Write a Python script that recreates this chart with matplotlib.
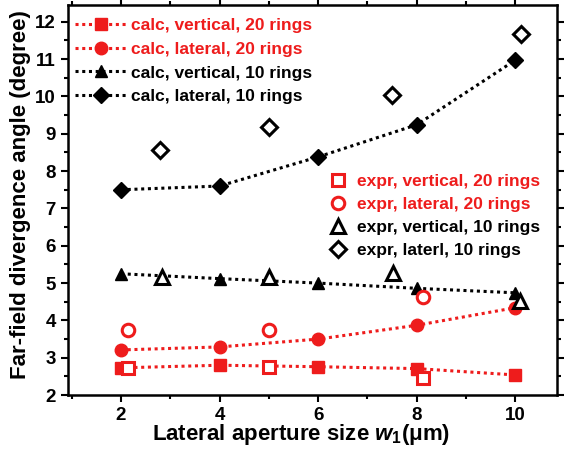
import numpy as np
import matplotlib
matplotlib.use('Agg')
import matplotlib.pyplot as plt
from matplotlib.ticker import MultipleLocator

plt.rcParams['font.family'] = ['Liberation Sans', 'DejaVu Sans']
plt.rcParams['font.weight'] = 'bold'
plt.rcParams['mathtext.fontset'] = 'custom'
plt.rcParams['mathtext.rm'] = 'Liberation Sans:bold'
plt.rcParams['mathtext.it'] = 'Liberation Sans:bold:italic'
plt.rcParams['mathtext.bf'] = 'Liberation Sans:bold'

# calculated curves (w1 = 2..10 um)
w_calc = [2, 4, 6, 8, 10]
calc_vert_20 = [2.73, 2.80, 2.76, 2.71, 2.54]
calc_lat_20 = [3.21, 3.29, 3.50, 3.87, 4.34]
calc_vert_10 = [5.25, 5.12, 5.00, 4.86, 4.74]
calc_lat_10 = [7.50, 7.60, 8.38, 9.24, 10.97]

# measured points
w_ev20 = [2.14, 5.0, 8.13]
expr_vert_20 = [2.72, 2.75, 2.45]
w_el20 = [2.14, 5.0, 8.13]
expr_lat_20 = [3.74, 3.74, 4.62]
w_ev10 = [2.83, 5.0, 7.52, 10.1]
expr_vert_10 = [5.15, 5.17, 5.26, 4.53]
w_el10 = [2.8, 5.0, 7.5, 10.11]
expr_lat_10 = [8.57, 9.18, 10.05, 11.68]

RED = '#ee1c1c'

fig = plt.figure(figsize=(5.65, 4.5), dpi=100)
ax = fig.add_axes([0.12, 0.122, 0.866, 0.867])

ls = dict(linestyle=(0, (1, 1.2)), linewidth=2.2)
h1, = ax.plot(w_calc, calc_vert_20, color=RED, marker='s', ms=8, **ls, label='calc, vertical, 20 rings')
h2, = ax.plot(w_calc, calc_lat_20, color=RED, marker='o', ms=9, **ls, label='calc, lateral, 20 rings')
h3, = ax.plot(w_calc, calc_vert_10, color='black', marker='^', ms=9, **ls, label='calc, vertical, 10 rings')
h4, = ax.plot(w_calc, calc_lat_10, color='black', marker='D', ms=8, **ls, label='calc, lateral, 10 rings')

ms = dict(linestyle='none', markerfacecolor='white', markeredgewidth=2.2)
e1, = ax.plot(w_ev20, expr_vert_20, marker='s', ms=8, color=RED, **ms, label='expr, vertical, 20 rings')
e2, = ax.plot(w_el20, expr_lat_20, marker='o', ms=9, color=RED, **ms, label='expr, lateral, 20 rings')
e3, = ax.plot(w_ev10, expr_vert_10, marker='^', ms=10, color='black', **ms, label='expr, vertical, 10 rings')
e4, = ax.plot(w_el10, expr_lat_10, marker='D', ms=8, color='black', **ms, label='expr, laterl, 10 rings')

ax.set_xlim(0.92, 10.85)
ax.set_ylim(2, 12.45)
ax.xaxis.set_major_locator(MultipleLocator(2))
ax.xaxis.set_minor_locator(MultipleLocator(1))
ax.yaxis.set_major_locator(MultipleLocator(1))
ax.yaxis.set_minor_locator(MultipleLocator(0.5))
ax.tick_params(which='both', direction='out', width=1.5, labelsize=13.5,
               top=True, right=True)
ax.tick_params(which='major', length=5)
ax.tick_params(which='minor', length=3)
for sp in ax.spines.values():
    sp.set_linewidth(1.8)

ax.set_xlabel(r'Lateral aperture size $w_{1}$($\mathrm{\mu}$m)', fontsize=16, fontweight='bold', labelpad=0)
ax.xaxis.set_label_coords(0.476, -0.07, transform=ax.transAxes)
ax.xaxis.label.set_va('top')
ax.set_ylabel('Far-field divergence angle (degree)', fontsize=16, fontweight='bold')
ax.yaxis.set_label_coords(-0.096, 0.515)
ax.yaxis.label.set_va('center')

leg1 = ax.legend(handles=[h1, h2, h3, h4], loc='upper left', frameon=False,
                 fontsize=12.5, handlelength=3.0, handletextpad=0.25,
                 labelspacing=0.5, borderaxespad=0.0,
                 bbox_to_anchor=(0.0, 0.985))
for t, c in zip(leg1.get_texts(), [RED, RED, 'black', 'black']):
    t.set_color(c)
ax.add_artist(leg1)

leg2 = ax.legend(handles=[e1, e2, e3, e4], loc='upper left', frameon=False,
                 fontsize=12.5, handlelength=1.2, handletextpad=0.46,
                 labelspacing=0.45, borderaxespad=0.0,
                 bbox_to_anchor=(0.517, 0.585))
for t, c in zip(leg2.get_texts(), [RED, RED, 'black', 'black']):
    t.set_color(c)

fig.savefig('out.png', dpi=100)
